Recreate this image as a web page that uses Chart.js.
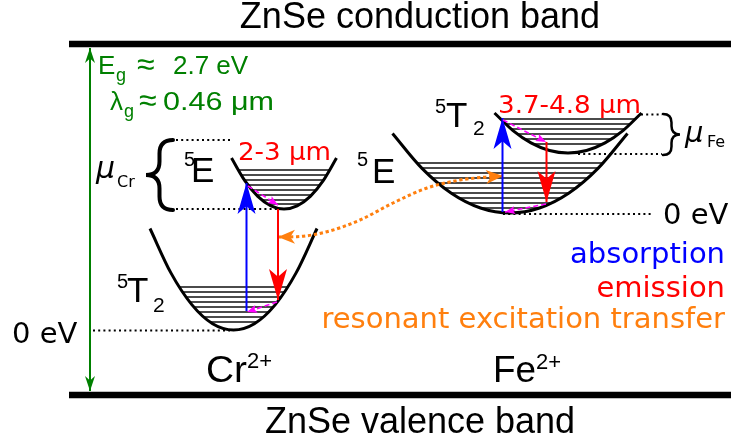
<!DOCTYPE html>
<html>
<head>
<meta charset="utf-8">
<script src="https://cdn.jsdelivr.net/npm/chart.js@4/dist/chart.umd.min.js"></script>
<style>
  html, body { margin: 0; padding: 0; background: #fff; }
  canvas { display: block; }
</style>
</head>
<body>
<canvas id="diagram" width="731" height="443"></canvas>
<script>
// Energy-level scheme of Cr2+ and Fe2+ ions in ZnSe.
// Drawing frame: x 0..731, y 0..443 (y grows downward).

// ZnSe band edges
const conductionBand = [[69, 44], [731, 44]];
const valenceBand    = [[69, 395], [731, 395]];

// Configuration-coordinate curves (sampled)
const cr5E  = [[231.5, 158], [244.6, 180.3], [257.8, 196.3], [270.9, 205.8], [284, 209], [297.1, 205.8], [310.3, 196.3], [323.4, 180.3], [336.5, 158]];
const cr5T2 = [[150, 228.5], [170.9, 272.9], [191.8, 304.6], [212.6, 323.7], [233.5, 330], [254.4, 323.7], [275.3, 304.6], [296.1, 272.9], [317, 228.5]];
const fe5T2 = [[494.5, 113], [513, 130.6], [531, 142.9], [549.5, 150.5], [568, 153], [586.5, 150.5], [605, 142.9], [623, 130.6], [641.5, 113]];
const fe5E  = [[392.5, 133.5], [422, 168.4], [451, 193], [480.5, 208], [510, 213], [539.5, 208], [569, 193], [598, 168.4], [627.5, 133.5]];

// Vibrational sub-levels inside each curve
const cr5ELevels  = [170, 175, 180, 185, 190, 195, 200, 204];
const cr5T2Levels = [287, 292, 297, 302, 307, 312, 317, 322];
const fe5T2Levels = [119, 124, 129, 134, 139, 144];
const fe5ELevels  = [163, 168, 173, 178, 183, 188, 193, 198, 203, 208];

// Reference (dotted) lines
const crZero   = [[93, 330.5], [230, 330.5]];
const crMuTop  = [[176, 140], [231, 140]];
const crMuBot  = [[176, 209], [278, 209]];
const feZero   = [[503, 214], [652, 214]];
const feMuTop  = [[641, 114.5], [662, 114.5]];
const feMuBot  = [[578, 154], [662, 154]];

// Brace spans for the Stokes shifts
const crBrace = [[173, 140], [173, 210]];
const feBrace = [[663, 114], [663, 155]];

// Transitions
const bandGap        = [[90, 48], [90, 391]];
const crAbsorption   = [[246.5, 311], [246.5, 183]];
const crEmission     = [[278, 209], [278, 300]];
const crRelaxUpper   = [[248, 186], [278, 205]];
const crRelaxLower   = [[277, 302], [247, 312]];
const feAbsorption   = [[502.5, 212], [502.5, 118]];
const feEmission     = [[546.5, 142], [546.5, 202]];
const feRelaxUpper   = [[503, 120], [546, 142]];
const feRelaxLower   = [[546, 204], [505, 212]];
const energyTransfer = [[278, 237], [297, 236.7], [327, 231.7], [360, 220], [393, 203], [427, 188], [460, 180], [490, 176.8], [503, 176]];

const BLUE = '#0000ff', RED = '#ff0000', MAGENTA = '#ff00ff', ORANGE = '#ff7f0e', GREEN = '#008000';
const SANS = '"Liberation Sans", Arial, sans-serif';
const DJV = '"DejaVu Sans", sans-serif';

const pts = a => a.map(([x, y]) => ({x, y}));
const rows = (ys, curve) => {
  const x0 = curve[0][0] - 5, x1 = curve[curve.length - 1][0] + 5;
  return ys.flatMap(y => [{x: x0, y}, {x: x1, y}, {x: NaN, y: NaN}]);
};

const plain = (data, color, width, dash) => ({
  data: pts(data), borderColor: color, borderWidth: width, borderDash: dash || [],
  tension: 0, pointRadius: 0, fill: false
});
const curve = (key, data) => ({
  key, data: pts(data), borderColor: '#000', borderWidth: 3, cubicInterpolationMode: 'monotone',
  pointRadius: 0, fill: false
});
const levels = (ys, shape, key) => ({
  data: rows(ys, shape), clipTo: key, borderColor: '#111', borderWidth: 1.4,
  pointRadius: 0, fill: false, spanGaps: false, tension: 0
});
const arrow = (data, color, width, dash, head, both) => Object.assign(plain(data, color, width, dash), {head, both: !!both});

const BIG = {len: 31, wid: 18, notch: 0.75};
const SMALL = {len: 10, wid: 8, notch: 0.8};
const DOTS = [2, 3.2];

// bottom-to-top drawing order
const layers = [
  levels(cr5ELevels, cr5E, 'cr5E'),
  levels(cr5T2Levels, cr5T2, 'cr5T2'),
  levels(fe5T2Levels, fe5T2, 'fe5T2'),
  levels(fe5ELevels, fe5E, 'fe5E'),
  curve('cr5E', cr5E),
  curve('cr5T2', cr5T2),
  curve('fe5T2', fe5T2),
  curve('fe5E', fe5E),
  plain(crZero, '#000', 2, DOTS),
  plain(crMuTop, '#000', 2, DOTS),
  plain(crMuBot, '#000', 2, DOTS),
  plain(feZero, '#000', 2, DOTS),
  plain(feMuTop, '#000', 2, DOTS),
  plain(feMuBot, '#000', 2, DOTS),
  plain(conductionBand, '#000', 6.5),
  plain(valenceBand, '#000', 6.5),
  Object.assign(arrow(energyTransfer, ORANGE, 3, [3.3, 2.7], {len: 17, wid: 14, notch: 0.72}, true), {cubicInterpolationMode: 'monotone'}),
  arrow(crAbsorption, BLUE, 2, null, BIG),
  arrow(crEmission, RED, 2, null, BIG),
  arrow(feAbsorption, BLUE, 2, null, BIG),
  arrow(feEmission, RED, 2, null, BIG),
  arrow(crRelaxUpper, MAGENTA, 1.6, [5, 3], SMALL),
  arrow(crRelaxLower, MAGENTA, 1.6, [5, 3], SMALL),
  arrow(feRelaxUpper, MAGENTA, 1.6, [5, 3], SMALL),
  arrow(feRelaxLower, MAGENTA, 1.6, [5, 3], SMALL),
  arrow(bandGap, GREEN, 2, null, {len: 15, wid: 10, notch: 0.7}, true)
];
layers.forEach((d, i) => { d.order = layers.length - i; });

function drawHead(ctx, tip, from, h, color) {
  let ux = tip.x - from.x, uy = tip.y - from.y;
  const n = Math.hypot(ux, uy) || 1;
  ux /= n; uy /= n;
  const px = -uy, py = ux;
  ctx.beginPath();
  ctx.moveTo(tip.x, tip.y);
  ctx.lineTo(tip.x - ux * h.len + px * h.wid / 2, tip.y - uy * h.len + py * h.wid / 2);
  ctx.lineTo(tip.x - ux * h.len * h.notch, tip.y - uy * h.len * h.notch);
  ctx.lineTo(tip.x - ux * h.len - px * h.wid / 2, tip.y - uy * h.len - py * h.wid / 2);
  ctx.closePath();
  ctx.fillStyle = color;
  ctx.fill();
}

function drawBrace(ctx, a, b, w, lw) {
  // a, b: pixel tips; w > 0 opens to the right ("{"), w < 0 opens to the left ("}")
  const x = a.x, y1 = a.y, y2 = b.y, m = (y1 + y2) / 2, r = w / 2, v = Math.abs(r);
  ctx.beginPath();
  ctx.moveTo(x, y1);
  ctx.quadraticCurveTo(x - r, y1, x - r, y1 + v);
  ctx.lineTo(x - r, m - v);
  ctx.quadraticCurveTo(x - r, m, x - w, m);
  ctx.quadraticCurveTo(x - r, m, x - r, m + v);
  ctx.lineTo(x - r, y2 - v);
  ctx.quadraticCurveTo(x - r, y2, x, y2);
  ctx.lineWidth = lw;
  ctx.strokeStyle = '#000';
  ctx.lineCap = 'round';
  ctx.stroke();
}

// [text, x, y(baseline), font, color, align, width]
const labels = [
  ['ZnSe conduction band', 420, 28, `36px ${SANS}`, '#000', 'center'],
  ['ZnSe valence band', 420, 433, `36px ${SANS}`, '#000', 'center'],
  ['E', 98, 74, `26px ${SANS}`, GREEN],
  ['g', 116, 81, `18px ${SANS}`, GREEN],
  ['≈', 137, 75, `32px ${SANS}`, GREEN],
  ['2.7 eV', 173, 74, `26px ${SANS}`, GREEN],
  ['λ', 110, 110, `26px ${SANS}`, GREEN],
  ['g', 124, 117, `18px ${SANS}`, GREEN],
  ['≈', 139, 111, `32px ${SANS}`, GREEN],
  ['0.46 μm', 163, 110, `26px ${SANS}`, GREEN, 'left', 111],
  ['μ', 96, 178, `italic 30px ${DJV}`, '#000'],
  ['Cr', 117, 187, `16px ${DJV}`, '#000'],
  ['5', 184, 166, `20px ${SANS}`, '#000'],
  ['E', 191, 182, `35px ${SANS}`, '#000'],
  ['2-3 μm', 238, 160, `25px ${DJV}`, RED, 'left', 93],
  ['5', 117, 288, `20px ${SANS}`, '#000'],
  ['T', 127, 302, `35px ${SANS}`, '#000'],
  ['2', 153, 312, `21px ${SANS}`, '#000'],
  ['0 eV', 12, 343, `29px ${DJV}`, '#000'],
  ['Cr', 206, 382, `36px ${SANS}`, '#000', 'left', 41],
  ['2+', 247, 368, `22px ${SANS}`, '#000'],
  ['5', 357, 166, `20px ${SANS}`, '#000'],
  ['E', 372, 183, `35px ${SANS}`, '#000'],
  ['5', 435, 113, `20px ${SANS}`, '#000'],
  ['T', 446, 127, `35px ${SANS}`, '#000'],
  ['2', 473, 135, `21px ${SANS}`, '#000'],
  ['3.7-4.8 μm', 498, 113, `25px ${DJV}`, RED, 'left', 143],
  ['μ', 685, 142, `italic 29px ${DJV}`, '#000'],
  ['Fe', 707, 147, `16px ${DJV}`, '#000'],
  ['0 eV', 663, 224, `29px ${DJV}`, '#000'],
  ['absorption', 725, 263, `29px ${DJV}`, BLUE, 'right'],
  ['emission', 725, 297, `29px ${DJV}`, RED, 'right'],
  ['resonant excitation transfer', 725, 328, `29px ${DJV}`, ORANGE, 'right'],
  ['Fe', 493, 382, `36px ${SANS}`, '#000', 'left', 43],
  ['2+', 536, 369, `22px ${SANS}`, '#000']
];

const schemePlugin = {
  id: 'scheme',
  beforeDatasetDraw(chart, args) {
    const ds = chart.data.datasets[args.index];
    if (!ds.clipTo) return;
    const idx = chart.data.datasets.findIndex(d => d.key === ds.clipTo);
    const outline = chart.getDatasetMeta(idx).dataset;
    outline.updateControlPoints(chart.chartArea, 'x');
    const ctx = chart.ctx;
    ctx.save();
    ctx.beginPath();
    outline.path(ctx);
    ctx.closePath();
    ctx.clip();
  },
  afterDatasetDraw(chart, args) {
    const ds = chart.data.datasets[args.index];
    const ctx = chart.ctx;
    if (ds.clipTo) ctx.restore();
    if (!ds.head) return;
    const p = args.meta.data;
    const n = p.length;
    const prevOf = (i, j) => {
      const q = p[i];
      if (ds.cubicInterpolationMode === 'monotone') {
        const cx = j < i ? q.cp1x : q.cp2x, cy = j < i ? q.cp1y : q.cp2y;
        if (cx !== undefined && Math.hypot(cx - q.x, cy - q.y) > 0.5) return {x: cx, y: cy};
      }
      return p[j];
    };
    drawHead(ctx, p[n - 1], prevOf(n - 1, n - 2), ds.head, ds.borderColor);
    if (ds.both) drawHead(ctx, p[0], prevOf(0, 1), ds.head, ds.borderColor);
  },
  afterDatasetsDraw(chart) {
    const ctx = chart.ctx, sx = chart.scales.x, sy = chart.scales.y;
    const P = ([x, y]) => ({x: sx.getPixelForValue(x), y: sy.getPixelForValue(y)});
    ctx.save();
    drawBrace(ctx, P(crBrace[0]), P(crBrace[1]), 27, 4);
    drawBrace(ctx, P(feBrace[0]), P(feBrace[1]), -17, 2.5);
    ctx.textBaseline = 'alphabetic';
    for (const [t, x, y, font, color, align, width] of labels) {
      ctx.font = font;
      ctx.fillStyle = color;
      ctx.textAlign = align || 'left';
      const px = sx.getPixelForValue(x), py = sy.getPixelForValue(y);
      if (width) {
        // stretch the run horizontally to its set width
        const k = width / ctx.measureText(t).width;
        ctx.save();
        ctx.translate(px, py);
        ctx.scale(k, 1);
        ctx.fillText(t, 0, 0);
        ctx.restore();
      } else {
        ctx.fillText(t, px, py);
      }
    }
    ctx.restore();
  }
};

new Chart(document.getElementById('diagram'), {
  type: 'line',
  data: { datasets: layers },
  options: {
    responsive: false,
    animation: false,
    devicePixelRatio: 1,
    events: [],
    layout: { padding: 0 },
    plugins: { legend: { display: false }, tooltip: { enabled: false } },
    elements: { point: { radius: 0 }, line: { borderCapStyle: 'butt' } },
    scales: {
      x: { type: 'linear', min: 0, max: 731, display: false },
      y: { type: 'linear', min: 0, max: 443, reverse: true, display: false }
    }
  },
  plugins: [schemePlugin]
});
</script>
</body>
</html>
